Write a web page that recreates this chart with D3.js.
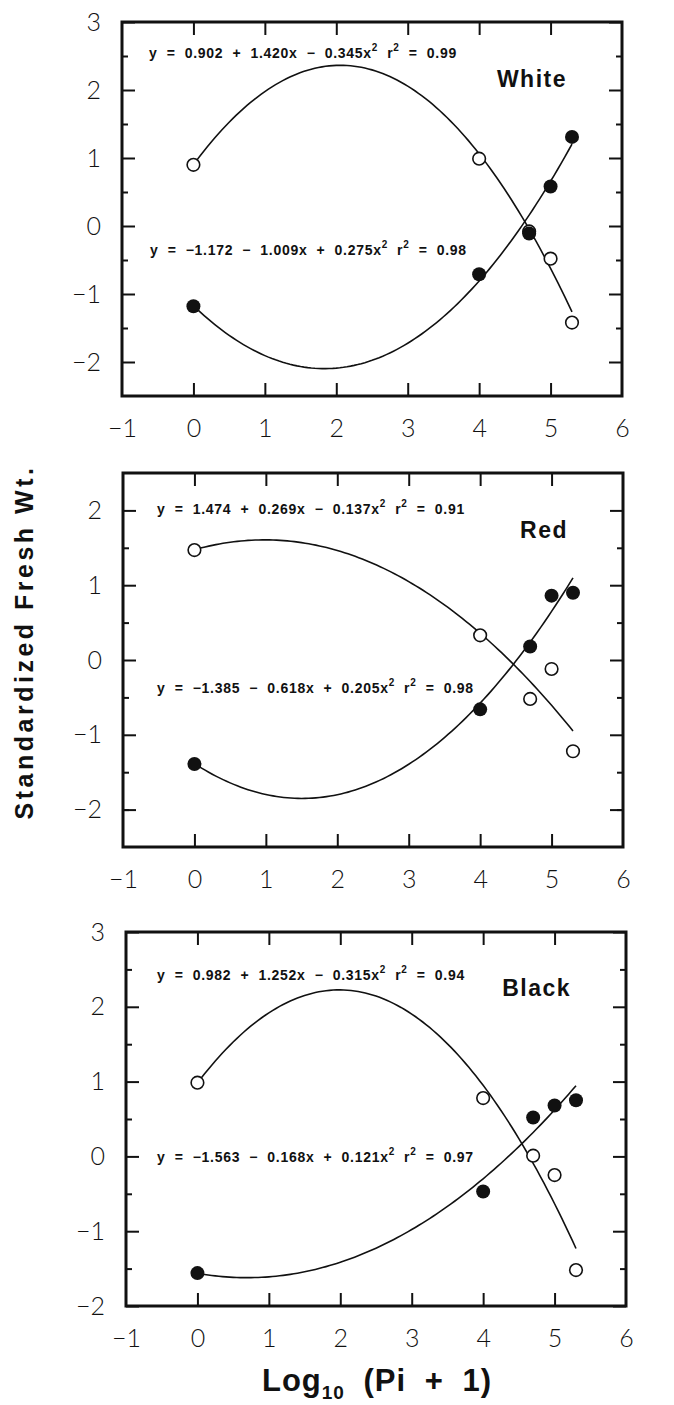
<!DOCTYPE html>
<html>
<head>
<meta charset="utf-8">
<script src="https://cdn.jsdelivr.net/npm/d3@7"></script>
<style>
  body { margin: 0; background: #fff; }
  .ticklabel text { font-family: Lato, "Open Sans", sans-serif; font-weight: 300; font-size: 25px; fill: #111; }
  .eq { font-family: "Liberation Sans", Arial, sans-serif; font-weight: bold; font-size: 14px; letter-spacing: 0.7px; fill: #111; white-space: pre; }
  .name { font-family: "Liberation Sans", Arial, sans-serif; font-weight: bold; font-size: 23px; letter-spacing: 1.5px; fill: #111; }
  .title { font-family: "Liberation Sans", Arial, sans-serif; font-weight: bold; fill: #111; }
</style>
</head>
<body>
<div class="grafico"></div>
<script>
/*Valores de x (Log10 (Pi + 1))*/
const xVals = [0, 4, 4.7, 5, 5.3]
const panelNames = ['White', 'Red', 'Black']

/*Puntos abiertos y llenos por panel*/
const openWhite = [0.90, 0.99, -0.08, -0.48, -1.42]
const filledWhite = [-1.18, -0.71, -0.11, 0.58, 1.31]
const openRed = [1.47, 0.33, -0.52, -0.12, -1.22]
const filledRed = [-1.39, -0.66, 0.18, 0.86, 0.90]
const openBlack = [0.985, 0.78, 0.01, -0.25, -1.52]
const filledBlack = [-1.56, -0.47, 0.52, 0.68, 0.75]

/*Coeficientes de las curvas (a + bx + cx^2) y r^2*/
const openCoef = [[0.902, 1.420, -0.345], [1.474, 0.269, -0.137], [0.982, 1.252, -0.315]]
const filledCoef = [[-1.172, -1.009, 0.275], [-1.385, -0.618, 0.205], [-1.563, -0.168, 0.121]]
const openR2 = [0.99, 0.91, 0.94]
const filledR2 = [0.98, 0.98, 0.97]

/*Ejes*/
const xDomain = [-1, 6]
const xTickLabels = [-1, 0, 1, 2, 3, 4, 5, 6]
const xInnerTicks = [0, 1, 2, 3, 4, 5]
const yDomains = [[-2.5, 3], [-2.5, 2.5], [-2, 3]]
const yTickLabels = [[-2, -1, 0, 1, 2, 3], [-2, -1, 0, 1, 2], [-2, -1, 0, 1, 2, 3]]
const yMinorTicks = [[-1.5, -0.5, 0.5, 1.5, 2.5], [-2, -1.5, -0.5, 0.5, 1.5], [-1.5, -0.5, 0.5, 1.5, 2.5]]

const openPts = [openWhite, openRed, openBlack]
const filledPts = [filledWhite, filledRed, filledBlack]

const w = 674
const h = 1405

/*Posición de cada panel (marco)*/
const layout = [
  { left: 122, top: 22, eq1: [27, 36], eq2: [28, 233], nameY: 65 },
  { left: 123, top: 473, eq1: [34, 41], eq2: [34, 220], nameY: 65 },
  { left: 126, top: 932, eq1: [31, 48], eq2: [31, 230], nameY: 64 }
]
const pw = 500
const ph = 374

const svg = d3.select('.grafico')
  .append('svg')
  .attr('width', w)
  .attr('height', h)
  .attr('viewBox', [0, 0, w, h])

const fmt3 = d3.format('.3f')
const fmt2 = d3.format('.2f')
const fmtTick = d3.format('d')
const sgn = v => v < 0 ? '  −  ' : '  +  '

/*Texto de ecuación con superíndices*/
const eqText = (g, pos, coef, r2) => {
  const t = g.append('text')
    .attr('class', 'eq')
    .attr('x', pos[0])
    .attr('y', pos[1])
  t.append('tspan').text('y  =  ' + fmt3(coef[0]).replace('-', '−') + sgn(coef[1]) + fmt3(Math.abs(coef[1])) + 'x' + sgn(coef[2]) + fmt3(Math.abs(coef[2])) + 'x')
  t.append('tspan').attr('dy', -7).attr('font-size', 10).text('2')
  t.append('tspan').attr('dy', 7).text('  r')
  t.append('tspan').attr('dy', -7).attr('font-size', 10).text('2')
  t.append('tspan').attr('dy', 7).text('  =  ' + fmt2(r2))
}

const graph = (i) => {
  const L = layout[i]
  const g = svg.append('g').attr('transform', `translate(${L.left},${L.top})`)

  const x = d3.scaleLinear().domain(xDomain).range([0, pw])
  const y = d3.scaleLinear().domain(yDomains[i]).range([ph, 0])

  /*Ticks internos*/
  const tick = (axis, tr, vals, size) => {
    g.append('g')
      .attr('transform', tr)
      .call(axis.tickValues(vals).tickSizeInner(-size).tickSizeOuter(0).tickFormat(''))
      .call(a => a.select('.domain').remove())
      .call(a => a.selectAll('line').attr('stroke', '#111').attr('stroke-width', 2))
  }
  tick(d3.axisBottom(x), `translate(0,${ph})`, xInnerTicks, 13)
  tick(d3.axisTop(x), 'translate(0,0)', xInnerTicks, 13)
  tick(d3.axisLeft(y), 'translate(0,0)', yTickLabels[i], 13)
  tick(d3.axisLeft(y), 'translate(0,0)', yMinorTicks[i], 6)
  tick(d3.axisRight(y), `translate(${pw},0)`, yTickLabels[i], 13)
  tick(d3.axisRight(y), `translate(${pw},0)`, yMinorTicks[i], 6)

  /*Etiquetas de ejes*/
  g.append('g')
    .attr('class', 'ticklabel')
    .attr('transform', `translate(0,${ph})`)
    .call(d3.axisBottom(x).tickValues(xTickLabels).tickFormat(fmtTick).tickSize(0).tickPadding(23))
    .call(a => a.select('.domain').remove())
  g.append('g')
    .attr('class', 'ticklabel')
    .call(d3.axisLeft(y).tickValues(yTickLabels[i]).tickFormat(fmtTick).tickSize(0).tickPadding(21))
    .call(a => a.select('.domain').remove())

  /*Marco*/
  g.append('rect')
    .attr('width', pw)
    .attr('height', ph)
    .attr('fill', 'none')
    .attr('stroke', '#111')
    .attr('stroke-width', 3)

  /*Curvas de ajuste*/
  const line = d3.line().x(d => x(d[0])).y(d => y(d[1]))
  const xs = d3.range(0, 5.3001, 0.05)
  const curve = c => xs.map(v => [v, c[0] + c[1] * v + c[2] * v * v])
  ;[openCoef[i], filledCoef[i]].forEach(c => {
    g.append('path')
      .attr('d', line(curve(c)))
      .attr('fill', 'none')
      .attr('stroke', '#111')
      .attr('stroke-width', 1.6)
  })

  /*Puntos*/
  g.append('g').selectAll('circle')
    .data(xVals.map((v, k) => [v, openPts[i][k]]))
    .join('circle')
    .attr('cx', d => x(d[0]))
    .attr('cy', d => y(d[1]))
    .attr('r', 6.3)
    .attr('fill', '#fff')
    .attr('stroke', '#111')
    .attr('stroke-width', 1.6)
  g.append('g').selectAll('circle')
    .data(xVals.map((v, k) => [v, filledPts[i][k]]))
    .join('circle')
    .attr('cx', d => x(d[0]))
    .attr('cy', d => y(d[1]))
    .attr('r', 7)
    .attr('fill', '#111')

  /*Ecuaciones y nombre*/
  eqText(g, L.eq1, openCoef[i], openR2[i])
  eqText(g, L.eq2, filledCoef[i], filledR2[i])
  g.append('text')
    .attr('class', 'name')
    .attr('x', pw - 55)
    .attr('y', L.nameY)
    .attr('text-anchor', 'end')
    .text(panelNames[i])
}

panelNames.forEach((n, i) => graph(i))

/*Títulos de ejes*/
svg.append('text')
  .attr('class', 'title')
  .attr('transform', 'translate(33,642) rotate(-90)')
  .attr('text-anchor', 'middle')
  .attr('font-size', 25)
  .attr('letter-spacing', 3.5)
  .text('Standardized Fresh Wt.')

const xt = svg.append('text')
  .attr('class', 'title')
  .attr('x', 377)
  .attr('y', 1391)
  .attr('text-anchor', 'middle')
  .attr('font-size', 31)
  .attr('letter-spacing', 1)
  .attr('word-spacing', 9)
xt.append('tspan').text('Log')
xt.append('tspan').attr('dy', 8).attr('font-size', 19).text('10')
xt.append('tspan').attr('dy', -8).text(' (Pi + 1)')
</script>
</body>
</html>
